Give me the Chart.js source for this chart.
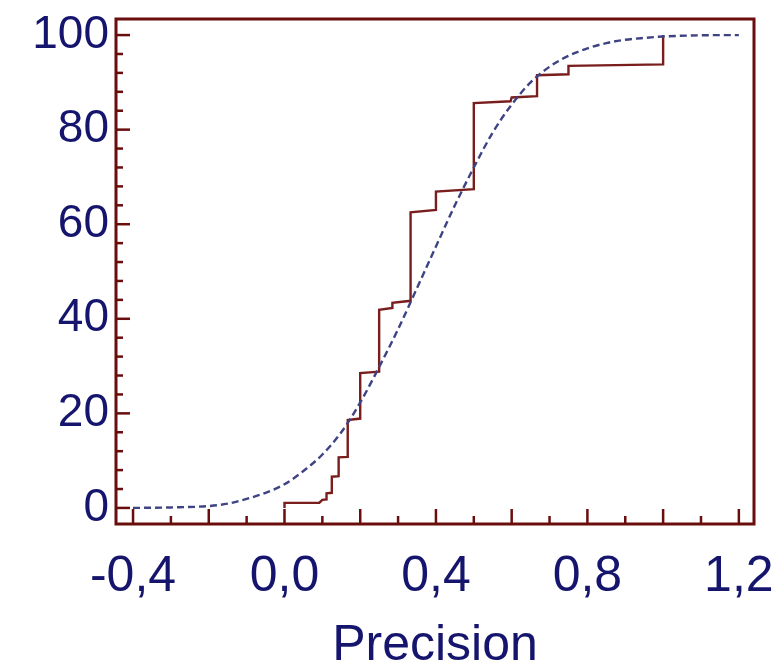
<!DOCTYPE html>
<html>
<head>
<meta charset="utf-8">
<script src="https://cdn.jsdelivr.net/npm/chart.js@4/dist/chart.umd.min.js"></script>
<style>
  html, body { margin: 0; padding: 0; background: #ffffff; }
  #wrap { width: 779px; height: 668px; }
</style>
</head>
<body>
<div id="wrap"><canvas id="c" width="779" height="668"></canvas></div>
<script>
// ---- Data ----
// Empirical (step) distribution of Precision, in %
const ecdfX = [0, 0, 0.092, 0.1, 0.111, 0.111, 0.125, 0.125, 0.143, 0.143, 0.167, 0.167, 0.2, 0.2, 0.25, 0.25, 0.285, 0.285, 0.333, 0.333, 0.4, 0.4, 0.5, 0.5, 0.597, 0.6, 0.667, 0.667, 0.75, 0.75, 1.0, 1.0];
const ecdfY = [0, 1.06, 1.1, 1.7, 1.8, 3.1, 3.2, 6.6, 6.7, 10.7, 10.8, 18.6, 18.9, 28.5, 28.8, 41.9, 42.3, 43.4, 43.8, 62.5, 63.0, 66.9, 67.4, 85.6, 86.0, 86.8, 87.1, 91.5, 91.7, 93.5, 93.8, 100];
// Fitted normal curve (dashed), in %
const fitX = [-0.4, -0.3, -0.2, -0.15, -0.1, -0.05, 0, 0.05, 0.1, 0.15, 0.2, 0.25, 0.3, 0.35, 0.4, 0.45, 0.5, 0.55, 0.6, 0.65, 0.7, 0.75, 0.8, 0.85, 0.9, 0.95, 1.0, 1.1, 1.2];
const fitY = [0, 0.1, 0.4, 0.9, 1.9, 3.2, 5.0, 7.8, 11.3, 16.0, 22.3, 29.8, 37.8, 46.5, 55.3, 64.0, 72.0, 79.4, 85.3, 90.0, 93.3, 95.6, 97.2, 98.3, 99.0, 99.4, 99.7, 99.95, 100];
// Tick values and labels
const xTickValues = [-0.4, 0, 0.4, 0.8, 1.2];
const xTickLabels = ['-0,4', '0,0', '0,4', '0,8', '1,2'];
const xMajorMarks = [-0.4, -0.2, 0, 0.2, 0.4, 0.6, 0.8, 1.0, 1.2];
const xMinorMarks = [-0.3, -0.1, 0.1, 0.3, 0.5, 0.7, 0.9, 1.1];
const yTickValues = [0, 20, 40, 60, 80, 100];
const yTickLabels = ['0', '20', '40', '60', '80', '100'];
const yMinorMarks = [4, 8, 12, 16, 24, 28, 32, 36, 44, 48, 52, 56, 64, 68, 72, 76, 84, 88, 92, 96];
const xTitle = 'Precision';

// ---- Styles ----
const FRAME = '#6a0d0d';
const STEP = '#7a1d1d';
const FIT = '#3d4383';
const TEXT = '#15156e';
const FONT = '"Liberation Sans", Arial, sans-serif';

const toPts = (xs, ys) => xs.map((x, i) => ({ x: x, y: ys[i] }));

const frameTicks = {
  id: 'frameTicks',
  afterDatasetsDraw(chart) {
    const { ctx, chartArea: a, scales: { x, y } } = chart;
    ctx.save();
    ctx.strokeStyle = FRAME;
    ctx.lineCap = 'butt';
    ctx.lineWidth = 2.5;
    const seg = (x1, y1, x2, y2) => { ctx.beginPath(); ctx.moveTo(x1, y1); ctx.lineTo(x2, y2); ctx.stroke(); };
    yTickValues.forEach(v => { const p = y.getPixelForValue(v); seg(a.left, p, a.left + 14, p); });
    yMinorMarks.forEach(v => { const p = y.getPixelForValue(v); seg(a.left, p, a.left + 7, p); });
    xMajorMarks.forEach(v => { const p = x.getPixelForValue(v); seg(p, a.bottom, p, a.bottom - 15); });
    xMinorMarks.forEach(v => { const p = x.getPixelForValue(v); seg(p, a.bottom, p, a.bottom - 8); });
    ctx.lineWidth = 3;
    ctx.strokeRect(a.left, a.top, a.right - a.left, a.bottom - a.top);
    ctx.restore();
  }
};

new Chart(document.getElementById('c'), {
  type: 'scatter',
  data: {
    datasets: [
      {
        label: 'Empirical',
        data: toPts(ecdfX, ecdfY),
        showLine: true,
        borderColor: STEP,
        borderWidth: 2.4,
        pointRadius: 0,
        tension: 0,
        order: 2
      },
      {
        label: 'Normal fit',
        data: toPts(fitX, fitY),
        showLine: true,
        borderColor: FIT,
        borderWidth: 2.4,
        borderDash: [7, 4],
        pointRadius: 0,
        cubicInterpolationMode: 'monotone',
        order: 1
      }
    ]
  },
  options: {
    responsive: false,
    animation: false,
    layout: { padding: { top: 19, right: 25, left: 0, bottom: 0 } },
    plugins: { legend: { display: false }, tooltip: { enabled: false } },
    scales: {
      x: {
        type: 'linear',
        min: -0.445,
        max: 1.24,
        grid: { display: false, drawTicks: false },
        border: { display: false },
        afterBuildTicks: s => { s.ticks = xTickValues.map(v => ({ value: v })); },
        afterFit: s => { s.height = 144; s.paddingLeft = 0; s.paddingRight = 0; },
        ticks: {
          color: TEXT,
          font: { family: FONT, size: 50 },
          padding: 23,
          maxRotation: 0,
          autoSkip: false,
          callback: (v) => { const i = xTickValues.findIndex(t => Math.abs(t - v) < 1e-9); return i >= 0 ? xTickLabels[i] : ''; }
        },
        title: {
          display: true,
          text: xTitle,
          color: TEXT,
          font: { family: FONT, size: 50, lineHeight: 1 },
          padding: { top: 0, bottom: -3 }
        }
      },
      y: {
        type: 'linear',
        min: -3.4,
        max: 103.4,
        grid: { display: false, drawTicks: false },
        border: { display: false },
        afterBuildTicks: s => { s.ticks = yTickValues.map(v => ({ value: v })); },
        afterFit: s => { s.width = 116; s.paddingTop = 0; s.paddingBottom = 0; },
        ticks: {
          color: TEXT,
          font: { family: FONT, size: 46 },
          padding: 7,
          autoSkip: false,
          callback: (v) => { const i = yTickValues.indexOf(v); return i >= 0 ? yTickLabels[i] : ''; }
        }
      }
    }
  },
  plugins: [frameTicks]
});
</script>
</body>
</html>
